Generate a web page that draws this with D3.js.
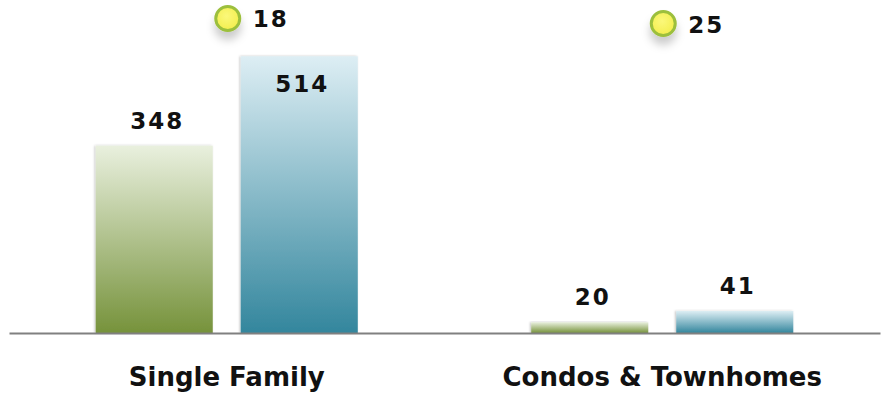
<!DOCTYPE html>
<html>
<head>
<meta charset="utf-8">
<script src="https://cdn.jsdelivr.net/npm/d3@7"></script>
<style>
  body { margin: 0; background: #fff; }
  svg { display: block; font-family: "DejaVu Sans", Verdana, sans-serif; }
</style>
</head>
<body>
<script>
// chart data
const categories = ["Single Family", "Condos & Townhomes"];
const seriesNames = ["green", "blue"];
const greenValues = [348, 20];
const blueValues = [514, 41];
const markerValues = [18, 25];

const WIDTH = 883;
const HEIGHT = 393;
const BASE_Y = 333;

const svg = d3.select("body").append("svg")
    .attr("width", WIDTH)
    .attr("height", HEIGHT);

const defs = svg.append("defs");

// bar gradients
const gradients = {
    green: ["#e9f0de", "#76923b"],
    blue: ["#ddeef4", "#33869d"]
};
Object.keys(gradients).forEach(k => {
    const g = defs.append("linearGradient")
        .attr("id", "grad-" + k)
        .attr("x1", 0).attr("y1", 0).attr("x2", 0).attr("y2", 1);
    g.append("stop").attr("offset", "0%").attr("stop-color", gradients[k][0]);
    g.append("stop").attr("offset", "100%").attr("stop-color", gradients[k][1]);
});

const dot = defs.append("radialGradient").attr("id", "grad-dot")
    .attr("cx", "45%").attr("cy", "40%").attr("r", "60%");
dot.append("stop").attr("offset", "0%").attr("stop-color", "#fbf87a");
dot.append("stop").attr("offset", "100%").attr("stop-color", "#f3ee4e");

const barShadow = defs.append("filter").attr("id", "bar-shadow")
    .attr("x", "-10%").attr("y", "-10%").attr("width", "120%").attr("height", "120%");
barShadow.append("feDropShadow")
    .attr("dx", -1).attr("dy", 0).attr("stdDeviation", 1.2)
    .attr("flood-color", "#000").attr("flood-opacity", 0.25);

const dotShadow = defs.append("filter").attr("id", "dot-shadow")
    .attr("x", "-60%").attr("y", "-60%").attr("width", "220%").attr("height", "260%");
dotShadow.append("feDropShadow")
    .attr("dx", 0).attr("dy", 8).attr("stdDeviation", 4.5)
    .attr("flood-color", "#000").attr("flood-opacity", 0.2);

// scales
const x0 = d3.scaleBand()
    .domain(categories)
    .range([9, 880])
    .padding(0);

const x1 = d3.scaleBand()
    .domain(seriesNames)
    .range([0, x0.bandwidth()])
    .paddingInner(0.193)
    .paddingOuter(0.598);

const y = d3.scaleLinear()
    .domain([0, 600])
    .range([BASE_Y, 10]);

// secondary scale for the markers
const y2 = d3.scaleLinear()
    .domain([0, 25])
    .range([5.6, 23.5]);

const rows = categories.map((c, i) => ({
    category: c,
    values: [
        {key: "green", value: greenValues[i]},
        {key: "blue", value: blueValues[i]}
    ],
    marker: markerValues[i]
}));

const groups = svg.append("g")
    .selectAll("g")
    .data(rows)
    .enter()
    .append("g")
    .attr("transform", d => `translate(${x0(d.category)},0)`);

groups.selectAll("rect")
    .data(d => d.values)
    .enter()
    .append("rect")
    .attr("x", d => x1(d.key))
    .attr("y", d => y(d.value))
    .attr("width", x1.bandwidth())
    .attr("height", d => BASE_Y - y(d.value))
    .attr("fill", d => "url(#grad-" + d.key + ")")
    .attr("filter", "url(#bar-shadow)");

groups.selectAll("text.value")
    .data(d => d.values)
    .enter()
    .append("text")
    .attr("class", "value")
    .attr("x", d => x1(d.key) + x1.bandwidth() / 2 + 3)
    .attr("y", d => {
        let top = y(d.value) - 17;
        // labels that would run off the top go inside the bar
        if (top < 45) top = y(d.value) + 36;
        return top;
    })
    .attr("text-anchor", "middle")
    .style("font-size", "23px")
    .style("font-weight", "bold")
    .style("letter-spacing", "2px")
    .attr("fill", "#111")
    .text(d => d.value);

// axis
const axis = svg.append("g")
    .attr("transform", `translate(0,${BASE_Y})`)
    .call(d3.axisBottom(x0).tickSize(0).tickSizeOuter(0).tickPadding(35));
axis.select(".domain")
    .attr("stroke", "#808080")
    .attr("stroke-width", 2);
axis.selectAll("text")
    .style("font-family", "'DejaVu Sans', Verdana, sans-serif")
    .style("font-size", "26px")
    .style("font-weight", "bold")
    .attr("fill", "#111");

// markers
const markerX = d => x0(d.category) + x0.bandwidth() / 2 + 1;
svg.append("g")
    .selectAll("circle")
    .data(rows)
    .enter()
    .append("circle")
    .attr("cx", markerX)
    .attr("cy", d => y2(d.marker))
    .attr("r", 12)
    .attr("fill", "url(#grad-dot)")
    .attr("stroke", "#9cbf3c")
    .attr("stroke-width", 3)
    .attr("filter", "url(#dot-shadow)");

svg.append("g")
    .selectAll("text")
    .data(rows)
    .enter()
    .append("text")
    .attr("x", d => markerX(d) + 25)
    .attr("y", d => y2(d.marker) + 9)
    .style("font-size", "23px")
    .style("font-weight", "bold")
    .style("letter-spacing", "2px")
    .attr("fill", "#111")
    .text(d => d.marker);
</script>
</body>
</html>
